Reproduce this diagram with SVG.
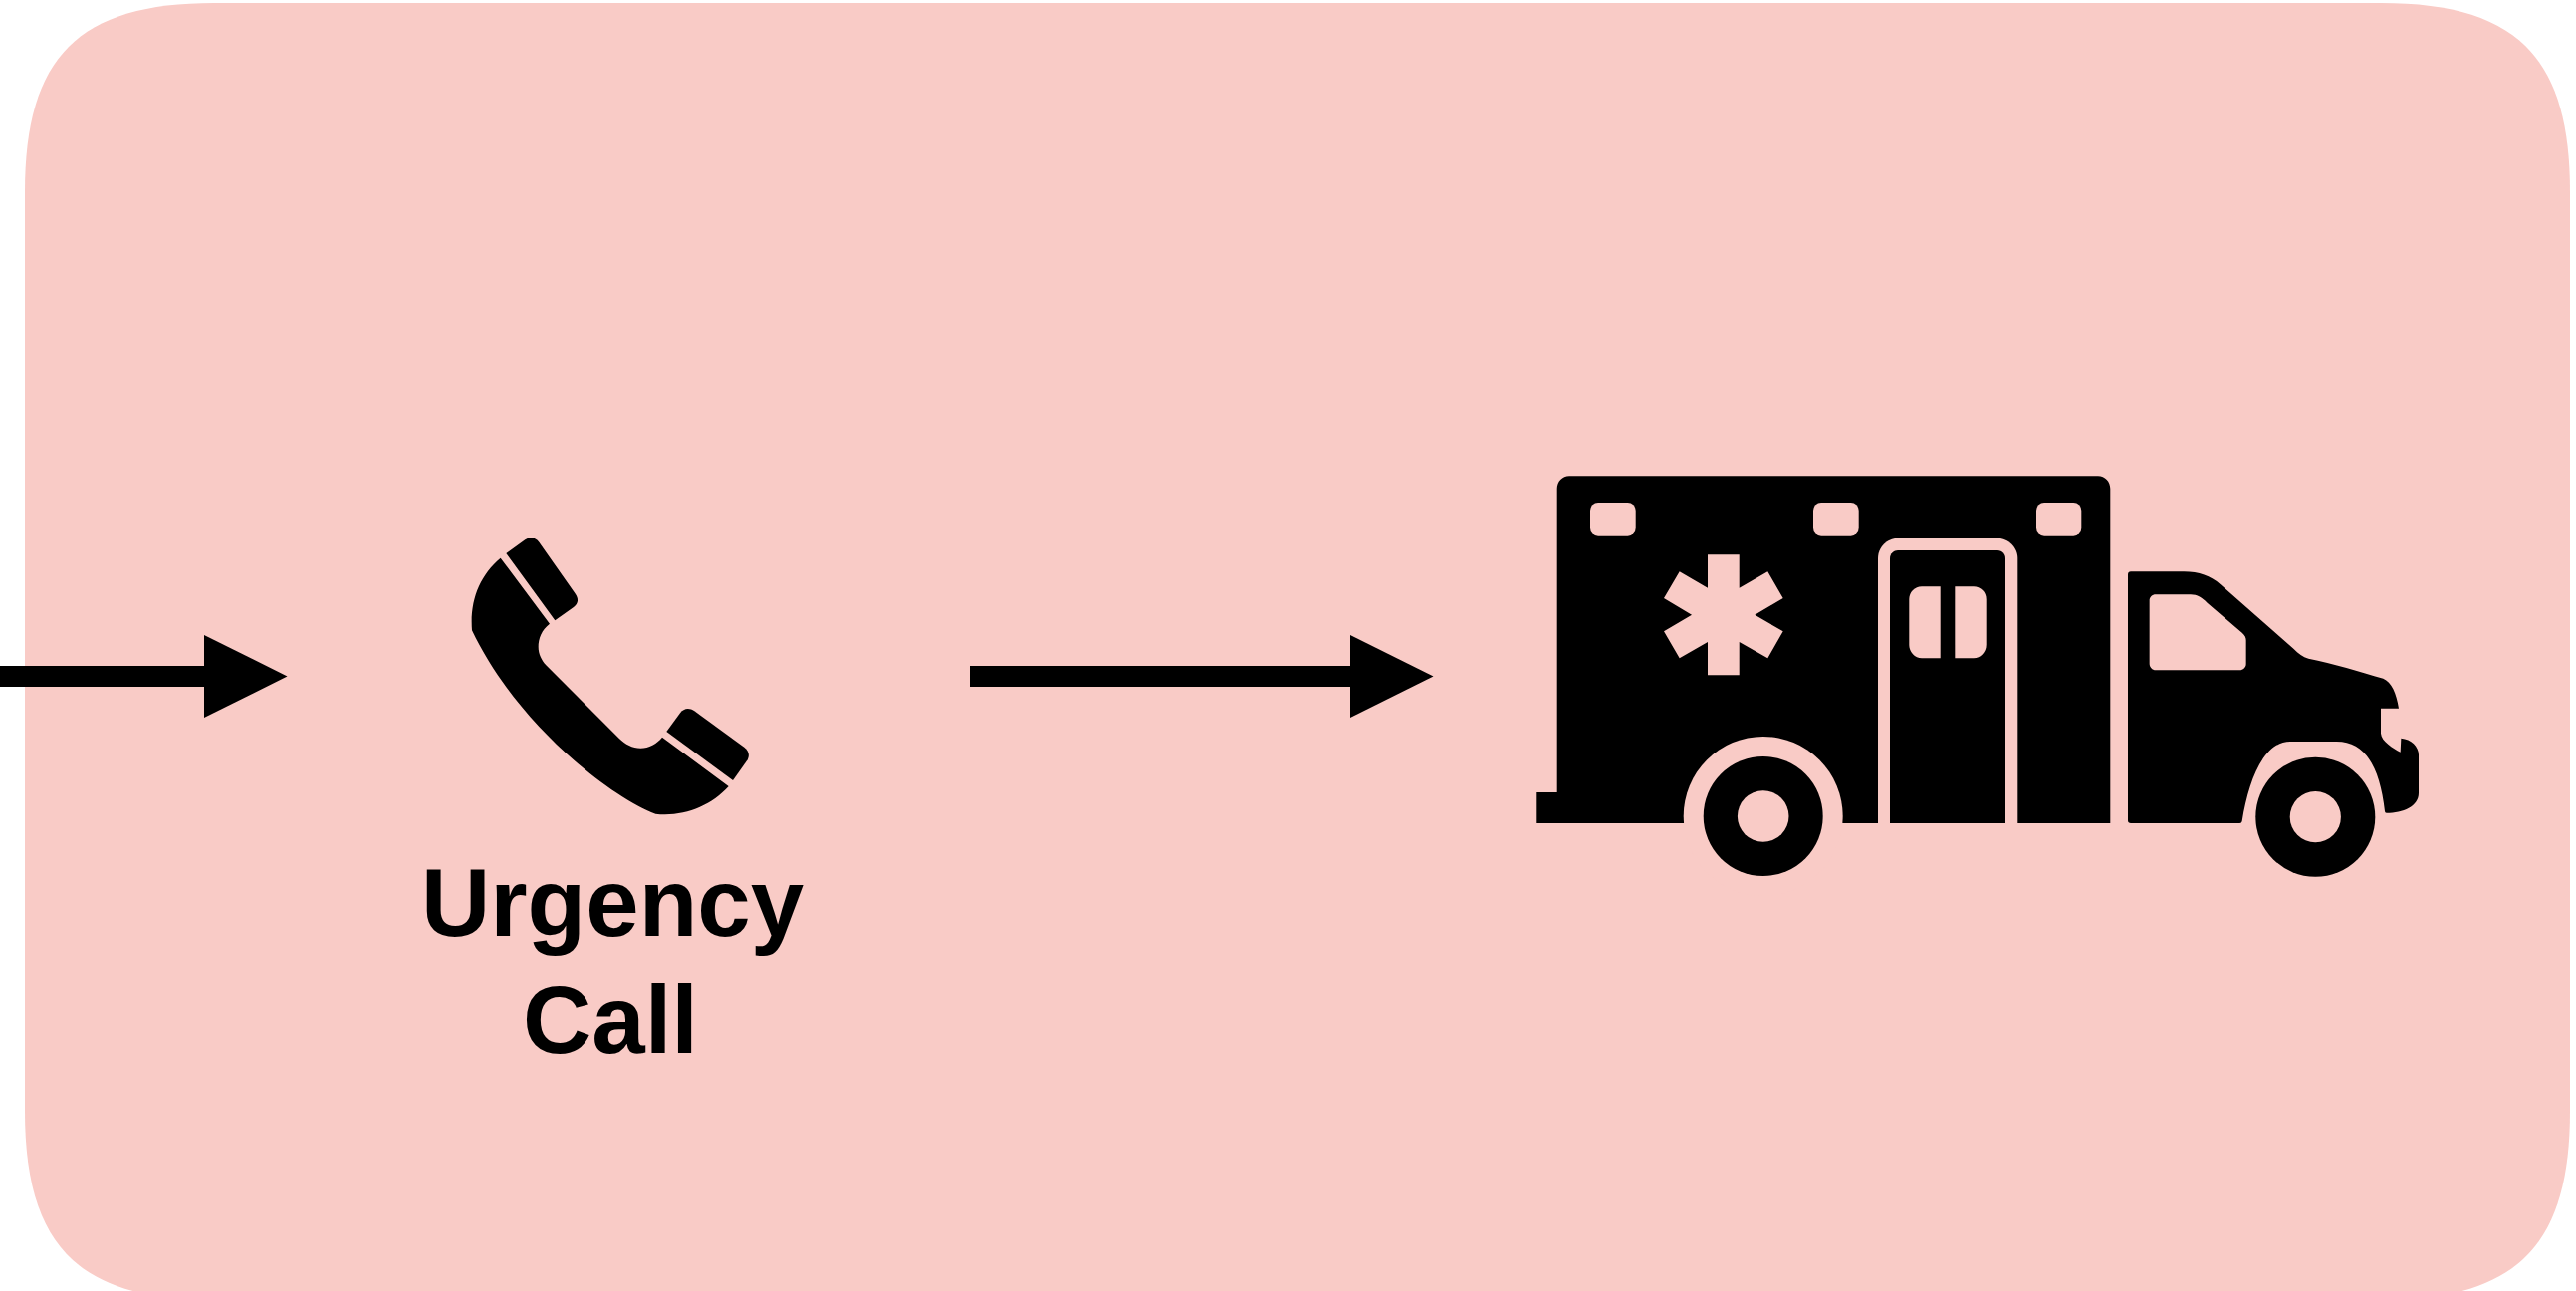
<svg xmlns="http://www.w3.org/2000/svg" width="2587" height="1297" viewBox="0 0 2587 1297">
<style>
.ink{fill:#000}
.bg{fill:#f9cbc6}
.conn{stroke:#000;stroke-width:21;fill:none}
.label{font-family:"Liberation Sans",Arial,sans-serif;font-weight:700;font-size:96px;fill:#000;text-anchor:middle}
</style>
<defs>
<marker id="head" markerUnits="userSpaceOnUse" markerWidth="84" markerHeight="84" refX="0" refY="41.500" orient="auto" overflow="visible">
<path d="M0 0L83.500 41.500L0 83Z" fill="#000"/>
</marker>
</defs>
<rect width="2587" height="1297" fill="#fff"/>
<g id="container">
<path class="bg" d="M215 3H2391C2527 3 2581 57 2581 193V1116C2581 1252 2527 1306 2391 1306H215C79 1306 25 1252 25 1116V193C25 57 79 3 215 3Z"/>
</g>
<g id="connectors">
<line class="conn" x1="0" y1="679.500" x2="205" y2="679.500" marker-end="url(#head)"/>
<line class="conn" x1="974" y1="679.500" x2="1356" y2="679.500" marker-end="url(#head)"/>
</g>
<g id="phone">
<g transform="translate(400 500) scale(.33333)">
<path class="ink" d="M308 182L456 380C432 398 422 425 422 450C422 472 432 490 445 505L665 725C685 744 705 755 730 755C755 755 778 742 795 722L995 870C940 930 860 962 775 953C625 895 350 670 222 400C215 310 245 235 308 182Z"/>
<path class="ink" d="M325 168L382 127C397 116 414 120 424 134L532 288C544 304 543 319 528 330L472 370Z"/>
<path class="ink" d="M808 705L848 650C860 634 876 632 892 643L1042 752C1056 763 1060 778 1050 793L1008 852Z"/>
</g>
</g>
<g id="urgency-call-label">
<text class="label" x="615" y="940">Urgency</text>
<text class="label" x="613" y="1058">Call</text>
</g>
<g id="ambulance">
<path class="ink" d="M1576 478.300H2107C2114 478.300 2119.300 484 2119.300 491V827H1543.300V796H1563.700V491C1563.700 484 1569 478.300 1576 478.300Z"/>
<rect class="bg" x="1597" y="505" width="45.700" height="32.700" rx="8"/>
<rect class="bg" x="1821" y="505" width="45.700" height="32.700" rx="8"/>
<rect class="bg" x="2045" y="505" width="45.300" height="32.700" rx="8"/>
<polygon class="bg" points="1715,557.300 1746.700,557.300 1746.700,590.700 1775.300,574.300 1790.700,601 1762.300,617.700 1790.700,634.300 1775.300,661.300 1746.700,645 1746.700,678.300 1715,678.300 1715,645 1686.700,661.300 1671,634.300 1699,617.700 1671,601 1686.700,574.300 1715,590.700"/>
<circle class="bg" cx="1770.700" cy="820" r="80"/>
<circle class="ink" cx="1770.700" cy="820" r="60"/>
<circle class="bg" cx="1770.700" cy="820" r="25.800"/>
<path class="bg" d="M1886 827V561C1886 550 1895 540.700 1906 540.700H2006C2017 540.700 2026.300 550 2026.300 561V827Z"/>
<path class="ink" d="M1898 827V561C1898 556 1902 553 1906 553H2006C2011 553 2014 557 2014 561V827Z"/>
<path class="bg" d="M1948.700 589.300V661.300H1930C1923 661.300 1917.300 655 1917.300 648V602C1917.300 595 1923 589.300 1930 589.300Z"/>
<path class="bg" d="M1963.300 589.300V661.300H1982C1989 661.300 1994.700 655 1994.700 648V602C1994.700 595 1989 589.300 1982 589.300Z"/>
<g transform="translate(2060 580) scale(.33333)">
<path class="ink" d="M240 -17H400C445 -17 480 -5 510 22L730 215C745 230 758 240 775 245C850 260 930 285 1000 305C1025 315 1040 350 1047 395H993V470C995 495 1030 515 1052 527L1054 485C1085 488 1107 510 1107 535V650C1107 690 1060 710 1010 710Q1005 710 1005 705C990 570 945 495 860 495H720C640 495 595 610 575 735Q574 741 568 741H240Q231 741 231 733V-8Q231 -17 240 -17Z"/>
<path class="bg" d="M315 52H420C440 52 455 62 470 77L575 167C584 175 587 182 587 190V262C587 272 578 280 568 280H315C304 280 296 270 296 260V70C296 60 304 52 315 52Z"/>
</g>
<circle class="ink" cx="2325.300" cy="820.700" r="60"/>
<circle class="bg" cx="2325.300" cy="820.700" r="25.600"/>
</g>
</svg>
